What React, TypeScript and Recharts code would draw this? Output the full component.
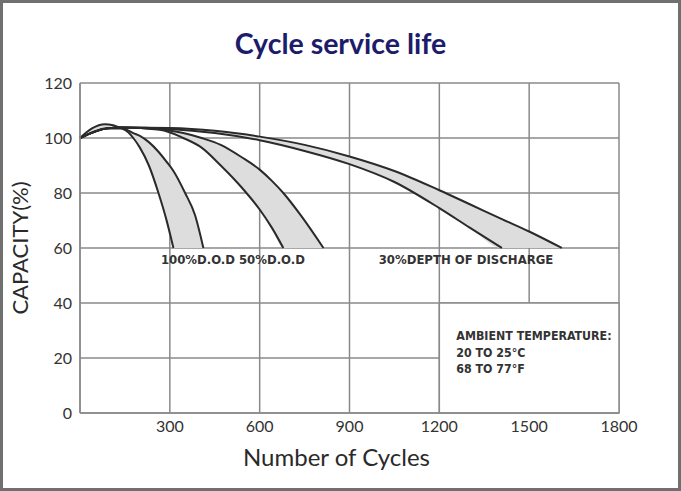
import React from 'react';
import {
  ComposedChart,
  Area,
  Line,
  XAxis,
  YAxis,
  CartesianGrid,
  ReferenceArea,
  ReferenceDot,
  Label,
} from 'recharts';

const xTicks = [0, 300, 600, 900, 1200, 1500, 1800];
const yTicks = [0, 20, 40, 60, 80, 100, 120];

// 100% D.O.D band (cycles, lower edge, upper edge)
const cycles100 = [0, 40, 83, 139, 160, 178, 200, 230, 262, 288, 312, 351, 384, 412];
const inner100 = [100, 103.5, 105, 103.5, 102.2, 100, 96.5, 90, 80, 70.5, 60, 60, 60, 60];
const outer100 = [100, 102, 103.5, 103.5, 102.8, 101.8, 100.8, 98.5, 95, 91.5, 88, 80, 72, 60];

// 50% D.O.D band
const cycles50 = [0, 90, 139, 267, 345, 406, 470, 540, 600, 640, 679, 740, 813];
const inner50 = [100, 103.5, 103.8, 103, 100, 96.5, 90, 82, 74, 67.5, 60, 60, 60];
const outer50 = [100, 103.5, 103.8, 103.2, 101.8, 100, 97.5, 93, 88.5, 84.5, 80, 71.5, 60];

// 30% depth of discharge band
const cycles30 = [0, 90, 139, 300, 450, 600, 750, 900, 1050, 1200, 1300, 1409, 1500, 1609];
const inner30 = [100, 103.5, 103.8, 103.3, 101.8, 99.2, 95.3, 90.5, 84, 74.5, 67.5, 60, 60, 60];
const outer30 = [100, 103.5, 103.8, 103.6, 102.6, 100.5, 97.5, 93.3, 88, 81, 76, 70.5, 66, 60];

const curveLabels = [
  { x: 394, text: '100%D.O.D' },
  { x: 641, text: '50%D.O.D' },
  { x: 1289, text: '30%DEPTH OF DISCHARGE' },
];

const ambientLines = ['AMBIENT TEMPERATURE:', '20 TO 25°C', '68 TO 77°F'];

const makeBand = (xs: number[], lo: number[], hi: number[]) =>
  xs.map((x, i) => ({ x, range: [lo[i], hi[i]], inner: lo[i], outer: hi[i] }));

const bands = [
  { key: '100', rows: makeBand(cycles100, inner100, outer100), lo: inner100 },
  { key: '50', rows: makeBand(cycles50, inner50, outer50), lo: inner50 },
  { key: '30', rows: makeBand(cycles30, inner30, outer30), lo: inner30 },
];

const GRID = '#8a8a8a';
const INK = '#2a2a2a';
const NARROW = '"Liberation Sans Narrow", "DejaVu Sans Condensed", sans-serif';

const AmbientText = (props: any) => {
  const { x, y } = props.viewBox;
  return (
    <text x={x + 17} y={y + 37} fontFamily={NARROW} fontSize={12.3} fontWeight="bold" fill="#333">
      {ambientLines.map((l, i) => (
        <tspan key={i} x={x + 17} dy={i === 0 ? 0 : 16.5}>
          {l}
        </tspan>
      ))}
    </text>
  );
};

export default function App() {
  return (
    <div style={{ position: 'absolute', left: 0, top: 0, width: 681, height: 491, background: '#fff' }}>
      <div
        style={{
          position: 'absolute',
          left: 0,
          top: 26,
          width: 681,
          textAlign: 'center',
          fontFamily: 'Lato, sans-serif',
          fontWeight: 'bold',
          fontSize: 28.5,
          color: '#1c1c6a',
        }}
      >
        Cycle service life
      </div>
      <div style={{ position: 'absolute', left: 0, top: 0 }}>
        <ComposedChart width={681} height={491} margin={{ top: 83, right: 62, bottom: 48, left: 20 }}>
          <CartesianGrid stroke={GRID} strokeWidth={1.5} />
          <XAxis
            type="number"
            dataKey="x"
            domain={[0, 1800]}
            ticks={xTicks}
            tickFormatter={(v) => (v === 0 ? '' : String(v))}
            axisLine={{ stroke: GRID, strokeWidth: 1.5 }}
            tickLine={false}
            height={30}
            tick={{ fill: '#333', fontSize: 16, fontFamily: 'Lato' }}
          >
            <Label value="Number of Cycles" position="bottom" offset={6} dx={-13} fontSize={24} fontFamily="Lato" fill={INK} />
          </XAxis>
          <YAxis
            type="number"
            domain={[0, 120]}
            ticks={yTicks}
            axisLine={{ stroke: GRID, strokeWidth: 1.5 }}
            tickLine={false}
            width={60}
            tick={{ fill: '#333', fontSize: 16, fontFamily: 'Lato' }}
          >
            <Label
              value="CAPACITY(%)"
              angle={-90}
              position="insideLeft"
              offset={0}
              fontSize={22}
              fontFamily="Lato"
              fill={INK}
              style={{ textAnchor: 'middle' }}
            />
          </YAxis>
          <ReferenceArea
            x1={1200}
            x2={1800}
            y1={0}
            y2={40}
            fill="#fff"
            fillOpacity={1}
            stroke={GRID}
            strokeWidth={1.5}
            label={<AmbientText />}
          />
          {bands.map((b) => (
            <Area
              key={'a' + b.key}
              data={b.rows}
              dataKey="range"
              type="monotone"
              fill="#dddddd"
              fillOpacity={1}
              stroke="none"
              isAnimationActive={false}
            />
          ))}
          {bands.map((b) => (
            <Line
              key={'i' + b.key}
              data={b.rows.slice(0, b.lo.indexOf(60) + 1)}
              dataKey="inner"
              type="monotone"
              stroke={INK}
              strokeWidth={2}
              dot={false}
              isAnimationActive={false}
            />
          ))}
          {bands.map((b) => (
            <Line
              key={'o' + b.key}
              data={b.rows}
              dataKey="outer"
              type="monotone"
              stroke={INK}
              strokeWidth={2}
              dot={false}
              isAnimationActive={false}
            />
          ))}
          {curveLabels.map((c) => (
            <ReferenceDot
              key={c.text}
              x={c.x}
              y={60}
              r={0}
              stroke="none"
              fill="none"
              label={
                <Label value={c.text} position="bottom" offset={7} fontSize={13} fontWeight="bold" fontFamily={NARROW} fill="#333" />
              }
            />
          ))}
        </ComposedChart>
      </div>
      <div
        style={{
          position: 'absolute',
          left: 0,
          top: 0,
          width: 681,
          height: 491,
          boxSizing: 'border-box',
          border: '3px solid #707070',
          pointerEvents: 'none',
        }}
      />
    </div>
  );
}
